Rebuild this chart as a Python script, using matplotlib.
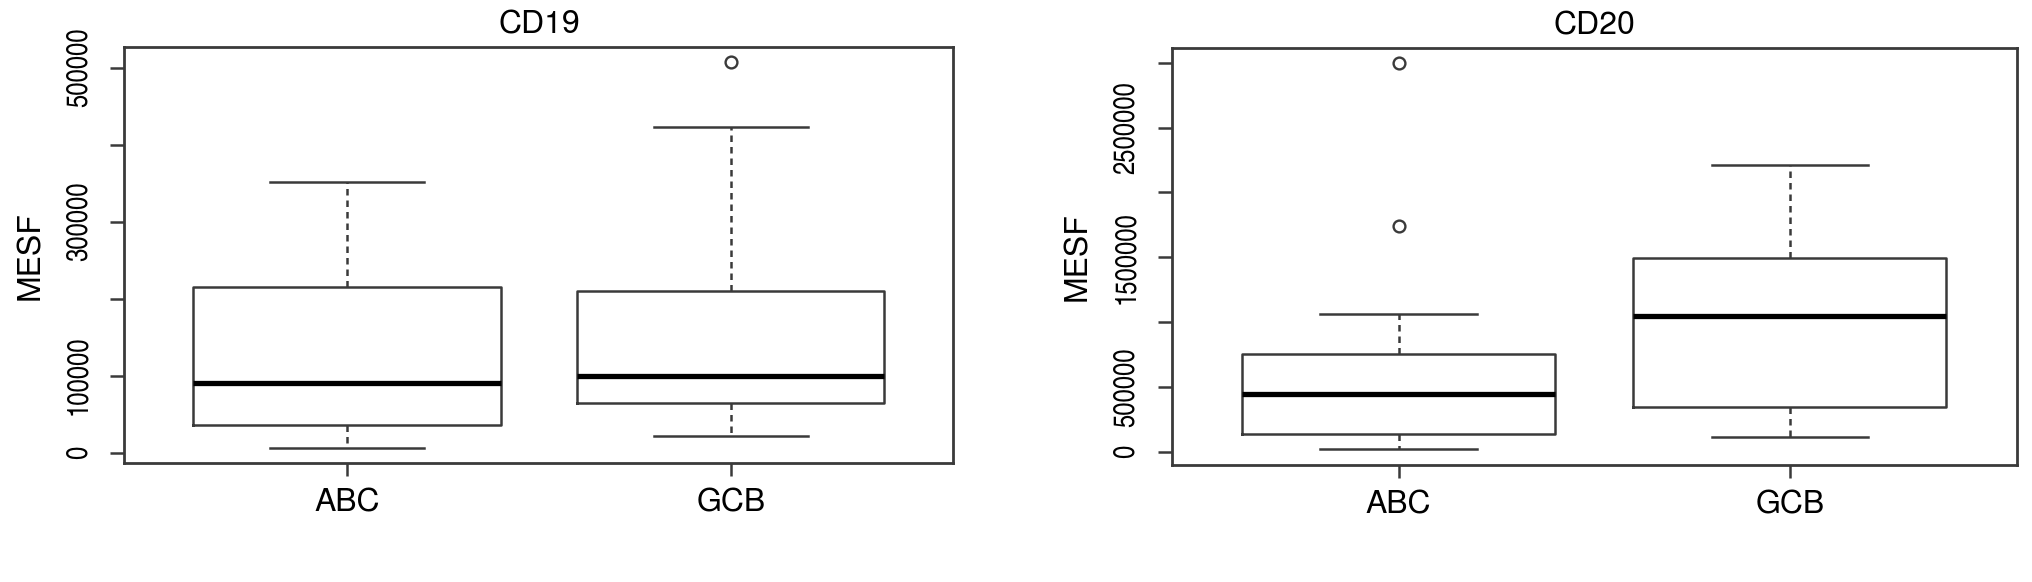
import matplotlib
matplotlib.use("Agg")
import matplotlib.pyplot as plt

# ---- data ----
groups = ["ABC", "GCB"]

cd19_whislo = [6500, 21700]
cd19_q1 = [35600, 65000]
cd19_med = [90900, 100000]
cd19_q3 = [214800, 209600]
cd19_whishi = [352000, 423000]
cd19_fliers = [[], [507000]]

cd20_whislo = [21000, 116000]
cd20_q1 = [134000, 342000]
cd20_med = [443000, 1047000]
cd20_q3 = [753000, 1496000]
cd20_whishi = [1064000, 2209000]
cd20_fliers = [[2995000, 1741000], []]

cd19_ticks = [0, 100000, 200000, 300000, 400000, 500000]
cd19_ticklabels = ["0", "100000", "", "300000", "", "500000"]
cd20_ticks = [0, 500000, 1000000, 1500000, 2000000, 2500000, 3000000]
cd20_ticklabels = ["0", "500000", "", "1500000", "", "2500000", ""]

titles = ["CD19", "CD20"]
ylabel = "MESF"

REG = ["TeX Gyre Heros", "Liberation Sans", "DejaVu Sans"]
NAR = ["TeX Gyre Heros Cn", "Liberation Sans", "DejaVu Sans"]
LC = "#3a3a3a"
LW = 1.8

fig = plt.figure(figsize=(20.32, 5.82), dpi=100)
ax1 = fig.add_axes([0.0612, 0.2040, 0.4080, 0.7147])
ax2 = fig.add_axes([0.5766, 0.2010, 0.4159, 0.7160])


def make_stats(lo, q1, med, q3, hi, fl):
    return [dict(whislo=lo[i], q1=q1[i], med=med[i], q3=q3[i], whishi=hi[i],
                 fliers=fl[i], label=groups[i]) for i in range(len(groups))]


def draw(ax, stats, ylim, ticks, ticklabels, title):
    ax.bxp(stats, positions=[1, 2], widths=0.8, capwidths=0.4,
           showfliers=True,
           boxprops=dict(color=LC, linewidth=LW),
           medianprops=dict(color="black", linewidth=3.8, solid_capstyle="butt"),
           whiskerprops=dict(color=LC, linewidth=LW, linestyle=(0, (2.6, 2.0))),
           capprops=dict(color=LC, linewidth=LW),
           flierprops=dict(marker="o", markerfacecolor="none",
                           markeredgecolor=LC, markersize=8.5, markeredgewidth=1.7))
    ax.set_xlim(0.42, 2.58)
    ax.set_ylim(*ylim)
    ax.set_yticks(ticks)
    ax.set_yticklabels(ticklabels, rotation=90, va="center",
                       family=NAR, fontsize=21)
    ax.set_xticks([1, 2])
    ax.set_xticklabels(groups, family=REG, fontsize=23)
    ax.tick_params(axis="y", length=10, width=LW, color=LC, pad=13)
    ax.tick_params(axis="x", length=9, width=LW, color=LC, pad=9)
    for s in ax.spines.values():
        s.set_color(LC)
        s.set_linewidth(2.0)
    ax.set_title(title, family=REG, fontsize=23, pad=10)
    ax.set_ylabel(ylabel, family=REG, fontsize=23, labelpad=14)


draw(ax1, make_stats(cd19_whislo, cd19_q1, cd19_med, cd19_q3, cd19_whishi, cd19_fliers),
     (-13800, 526500), cd19_ticks, cd19_ticklabels, titles[0])
draw(ax2, make_stats(cd20_whislo, cd20_q1, cd20_med, cd20_q3, cd20_whishi, cd20_fliers),
     (-102600, 3111000), cd20_ticks, cd20_ticklabels, titles[1])

fig.savefig("out.png", dpi=100, facecolor="white")
